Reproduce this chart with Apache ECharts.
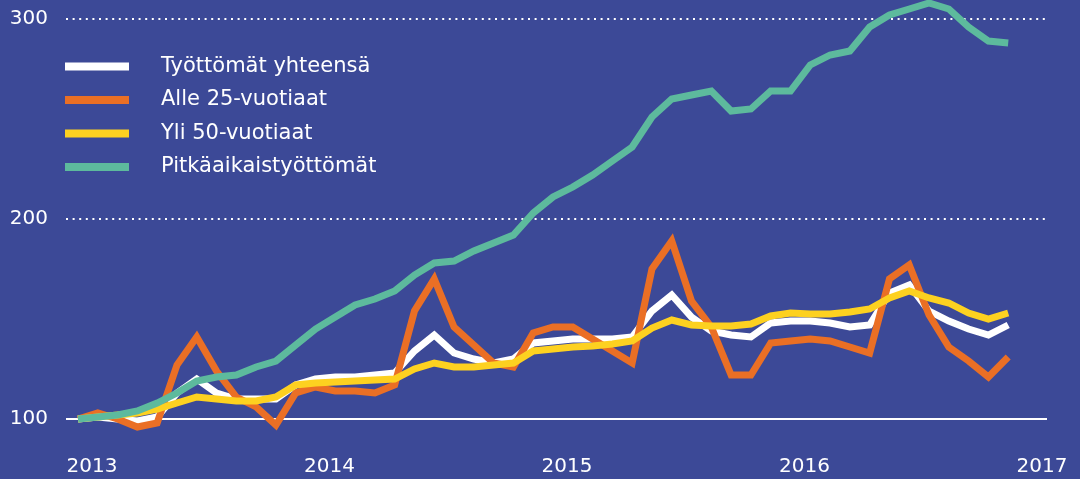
<!DOCTYPE html>
<html>
<head>
<meta charset="utf-8">
<script src="https://cdn.jsdelivr.net/npm/echarts@6/dist/echarts.min.js"></script>
<style>
html,body{margin:0;padding:0;background:#3c4997;}
#chart{width:1080px;height:479px;}
</style>
</head>
<body>
<div id="chart"></div>
<script>
// Monthly index, Jan 2013 = 100 (months 0..47 = Jan 2013 .. Dec 2016)
const yearLabels = [2013, 2014, 2015, 2016, 2017];
const yTicks = [100, 200, 300];
const seriesNames = ['Työttömät yhteensä', 'Alle 25-vuotiaat', 'Yli 50-vuotiaat', 'Pitkäaikaistyöttömät'];

const total = [100, 101, 100, 99, 101, 113, 120, 113, 110, 110, 110, 117,
  120, 121, 121, 122, 123, 134, 142, 133, 130, 128, 130, 138,
  139, 140, 140, 140, 141, 154, 162, 151, 144, 142, 141, 148,
  149, 149, 148, 146, 147, 163, 167, 154, 149, 145, 142, 147];
const under25 = [100, 103, 100, 96, 98, 127, 141, 124, 111, 106, 97, 113,
  116, 114, 114, 113, 117, 154, 170, 146, 137, 128, 126, 143,
  146, 146, 140, 134, 128, 175, 189, 159, 146, 122, 122, 138,
  139, 140, 139, 136, 133, 170, 177, 152, 136, 129, 121, 131];
const over50 = [100, 101, 102, 103, 105, 108, 111, 110, 109, 109, 111, 117,
  118, 118.5, 119, 119.5, 120, 125, 128, 126, 126, 127, 128, 134,
  135, 136, 136.5, 137.5, 139, 145.5, 149.5, 147, 146.5, 146.5, 147.5, 151.5,
  153, 152.5, 152.5, 153.5, 155, 160.5, 164, 160.5, 158, 153, 150, 153];
const longTerm = [100, 101, 102, 104, 108, 113, 119, 121, 122, 126, 129, 137,
  145, 151, 157, 160, 164, 172, 178, 179, 184, 188, 192, 203,
  211, 216, 222, 229, 236, 251, 260, 262, 264, 254, 255, 264,
  264, 277, 282, 284, 296, 302, 305, 308, 305, 296, 289, 288];

const colors = ['#ffffff', '#ea6f25', '#fdd120', '#5dba9d'];
const seriesData = [total, under25, over50, longTerm];

function toPoints(arr) { return arr.map((v, i) => [i, v]); }

const chart = echarts.init(document.getElementById('chart'), null, {renderer: 'canvas'});
const fontFamily = '"DejaVu Sans"';

const series = seriesData.map((d, k) => ({
  name: seriesNames[k],
  type: 'line',
  data: toPoints(d),
  symbol: 'none',
  color: colors[k],
  lineStyle: {width: 7, color: colors[k], join: 'miter', cap: 'butt'},
  z: 3 + k,
  silent: true,
  animation: false
}));

series[0].markLine = {
  silent: true,
  symbol: 'none',
  z: 1,
  animation: false,
  label: {show: false},
  data: [
    {yAxis: yTicks[0], lineStyle: {type: 'solid', width: 2, color: '#ffffff'}},
    {yAxis: yTicks[1], lineStyle: {type: [2, 4.6], width: 2, color: '#ffffff'}},
    {yAxis: yTicks[2], lineStyle: {type: [2, 4.6], width: 2, color: '#ffffff'}}
  ]
};

chart.setOption({
  backgroundColor: '#3c4997',
  animation: false,
  grid: {left: 66, right: 33, top: 1, bottom: 40, containLabel: false},
  legend: {
    orient: 'vertical',
    left: 65,
    top: 56,
    padding: 0,
    itemGap: 12.5,
    itemWidth: 64,
    itemHeight: 8,
    icon: 'rect',
    data: seriesNames,
    textStyle: {color: '#ffffff', fontSize: 21, fontFamily: fontFamily, lineHeight: 21, padding: [0, 0, 0, 27]}
  },
  xAxis: {
    type: 'value',
    min: -0.606,
    max: 48.96,
    axisLine: {show: false},
    axisTick: {show: false},
    splitLine: {show: false},
    axisLabel: {
      customValues: [0, 12, 24, 36, 48],
      formatter: v => String(yearLabels[Math.round(v / 12)]),
      color: '#ffffff',
      fontSize: 20,
      fontFamily: fontFamily,
      margin: 18,
      padding: [0, 0, 0, 28]
    }
  },
  yAxis: {
    type: 'value',
    min: 90,
    max: 309,
    axisLine: {show: false},
    axisTick: {show: false},
    splitLine: {show: false},
    axisLabel: {
      customValues: yTicks,
      color: '#ffffff',
      fontSize: 20,
      fontFamily: fontFamily,
      margin: 18
    }
  },
  series: series
});
</script>
</body>
</html>
